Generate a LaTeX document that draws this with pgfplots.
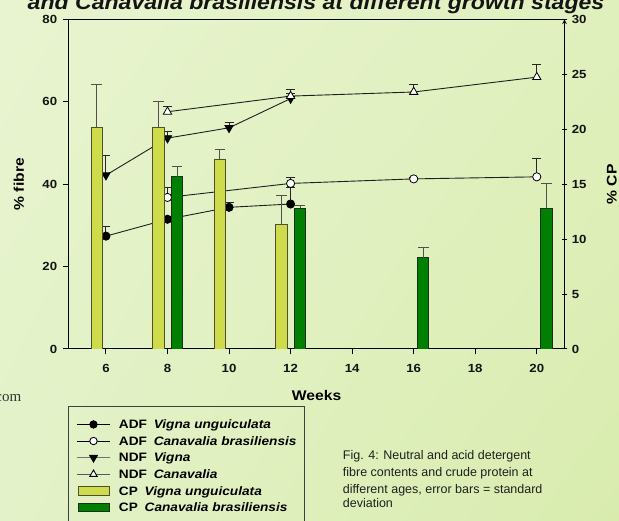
\documentclass[border=0pt]{standalone}
\usepackage{fontspec}
\setmainfont{Liberation Sans}[FakeStretch=1.12]
\newfontfamily\capfont{Liberation Sans}
\newfontfamily\webfont{Liberation Serif}
\usepackage{pgfplots}
\usepackage{pgfplotstable}
\usetikzlibrary{shadings}
\pgfplotsset{compat=1.18}

\definecolor{bgUL}{HTML}{E8F4D0}
\definecolor{bgUR}{HTML}{E0F0BD}
\definecolor{bgLL}{HTML}{E3F2C8}
\definecolor{bgLR}{HTML}{D9ECAE}
\definecolor{cpV}{HTML}{CEDC4C}
\definecolor{cpVedge}{HTML}{4F4F30}
\definecolor{cpC}{HTML}{008000}
\definecolor{cpCedge}{HTML}{1C2E1C}
\definecolor{errgray}{HTML}{505050}

% fibre contents (% of DM), columns: week, mean, standard deviation
\pgfplotstableread{
wk y e
6 27.4 2.3
8 31.5 0.6
10 34.4 1.1
12 35.2 4.1
}\adfvigna
\pgfplotstableread{
wk y e
8 36.8 2.4
12 40.2 1.4
16 41.3 0.4
20 41.8 4.5
}\adfcanav
\pgfplotstableread{
wk y e
6 42.2 4.7
8 51.2 1.6
10 53.7 1.4
12 60.8 1.2
}\ndfvigna
\pgfplotstableread{
wk y e
8 57.6 1.2
12 61.4 1.6
16 62.4 1.9
20 66.0 3.1
}\ndfcanav
% crude protein (%)
\pgfplotstableread{
wk y e
6 20.2 3.9
8 20.15 2.4
10 17.3 0.85
12 11.3 2.7
}\cpvigna
\pgfplotstableread{
wk y e
8 15.7 0.9
12 12.8 0.3
16 8.3 0.9
20 12.8 2.3
}\cpcanav

% tick numbers set in the bold text font
\newcommand{\axisnumber}{\pgfmathprintnumber[assume math mode=true]{\tick}}

\pgfplotsset{
  linelegend/.style={legend image code/.code={
      \draw[mark repeat=2, mark phase=2, ##1] plot coordinates {(0pt,0pt) (16.5pt,0pt) (33pt,0pt)};
      \path (41.3pt,0pt);}},
  barlegend/.style={legend image code/.code={
      \draw[##1] (1pt,-4.2pt) rectangle (32pt,4.2pt);
      \path (41.3pt,0pt);}},
  fibreline/.style={color=black!88, line width=0.9pt,
      error bars/y dir=plus, error bars/y explicit,
      error bars/error bar style={line width=0.9pt, black!85},
      error bars/error mark options={rotate=90, mark size=4.5pt, line width=0.9pt, black!85}},
  cpbar/.style={ybar, bar width=0.37, bar shift=0pt, line width=0.9pt,
      error bars/y dir=plus, error bars/y explicit,
      error bars/error bar style={line width=1pt, errgray},
      error bars/error mark options={rotate=90, mark size=5.3pt, line width=1pt, errgray}},
  commonaxis/.style={
      at={(68.7pt,172pt)}, anchor=south west,
      scale only axis, width=495.8pt, height=329.5pt,
      xmin=4.79, xmax=20.9,
      tick align=outside, major tick length=5.5pt,
      axis line style={-, line width=1pt, black},
      tick style={line width=1pt, black},
      /pgf/number format/assume math mode=true,
      xticklabel={\axisnumber}, yticklabel={\axisnumber},
      every tick label/.append style={font=\bfseries\fontsize{11.8}{13}\selectfont, text=black!92},
  },
}

\begin{document}
\begin{tikzpicture}
\useasboundingbox (0pt,0pt) rectangle (619pt,521pt);
\clip (0pt,0pt) rectangle (619pt,521pt);
\shade[upper left=bgUL, upper right=bgUR, lower left=bgLL, lower right=bgLR]
  (0pt,0pt) rectangle (619pt,521pt);

% fibre on the left axis
\begin{axis}[commonaxis,
  ymin=0, ymax=80,
  xtick={6,8,...,20}, ytick={0,20,...,80},
  xtick pos=left, ytick pos=left,
  yticklabel style={anchor=east, xshift=-2.5pt},
  xticklabel style={anchor=north, yshift=-6.5pt},
  xlabel={Weeks}, ylabel={\% fibre},
  label style={font=\bfseries\fontsize{14}{16}\selectfont},
  xlabel style={at={(axis description cs:0.5,-0.1578)}, anchor=base},
  ylabel style={at={(axis description cs:-0.0902,0.5)}, anchor=base},
]
\addplot[fibreline, mark=*, mark size=4.1pt, mark options={fill=black, draw=black, line width=0.8pt}]
  table[x=wk, y=y, y error=e] {\adfvigna};
\addplot[fibreline, mark=*, mark size=4.1pt, mark options={fill=white, draw=black, line width=0.8pt}]
  table[x=wk, y=y, y error=e] {\adfcanav};
\addplot[fibreline, mark=triangle*, mark size=4.8pt, mark options={rotate=180, fill=black, draw=black, line width=0.8pt}]
  table[x=wk, y=y, y error=e] {\ndfvigna};
\addplot[fibreline, mark=triangle*, mark size=4.8pt, mark options={fill=white, draw=black, line width=0.8pt}]
  table[x=wk, y=y, y error=e] {\ndfcanav};
\end{axis}

% crude protein on the right axis
\begin{axis}[commonaxis,
  ymin=0, ymax=30,
  axis x line=none, axis y line=right,
  ytick={0,5,...,30}, ytick pos=right,
  yticklabel style={anchor=west, xshift=1pt},
  ylabel={\% CP},
  ylabel style={font=\bfseries\fontsize{14}{16}\selectfont,
     at={(axis description cs:1.1053,0.5)}, anchor=base},
  legend style={at={(axis description cs:-0.0014,-0.174)}, anchor=north west,
     draw=black!75, line width=0.8pt, fill=none,
     inner xsep=8pt, inner ysep=11.7pt, row sep=4.6pt,
     font=\bfseries\fontsize{12.2}{14}\selectfont,
     nodes={inner sep=0pt, text height=10.3pt, text depth=1.7pt}},
  legend cell align=left,
]
\addlegendimage{linelegend, black, line width=0.9pt, mark=*, mark size=3.7pt, mark options={fill=black}}
\addlegendentry{ADF\hspace{3pt} \textit{Vigna unguiculata}}
\addlegendimage{linelegend, black, line width=0.9pt, mark=*, mark size=3.7pt, mark options={fill=white}}
\addlegendentry{ADF\hspace{3pt} \textit{Canavalia brasiliensis}}
\addlegendimage{linelegend, black!55, line width=1.2pt, mark=triangle*, mark size=4.2pt, mark options={rotate=180, fill=black, draw=black}}
\addlegendentry{NDF\hspace{3pt} \textit{Vigna}}
\addlegendimage{linelegend, black!65, line width=0.9pt, mark=triangle*, mark size=4.2pt, mark options={fill=white, draw=black}}
\addlegendentry{NDF\hspace{3pt} \textit{Canavalia}}

\addplot[barlegend, cpbar, fill=cpV, draw=cpVedge]
  table[x expr=\thisrow{wk}-0.3, y=y, y error=e] {\cpvigna};
\addlegendentry{CP\hspace{3pt} \textit{Vigna unguiculata}}
\addplot[barlegend, cpbar, fill=cpC, draw=cpCedge]
  table[x expr=\thisrow{wk}+0.31, y=y, y error=e] {\cpcanav};
\addlegendentry{CP\hspace{3pt} \textit{Canavalia brasiliensis}}
\end{axis}

% heading, source line and figure caption
\node[anchor=base, font=\bfseries\itshape\fontsize{20.6}{24}\selectfont, text=black!92]
  at (316pt,511pt) {and Canavalia brasiliensis at different growth stages};
\node[anchor=base east, font=\webfont\fontsize{15}{18}\selectfont, text=black!80, inner sep=0pt]
  at (21.5pt,119.5pt) {com};
\begin{scope}[every node/.style={anchor=base west, inner sep=0pt, text=black!88,
    font=\capfont\fontsize{12.5}{16}\selectfont}]
\node at (342.7pt,61pt) {Fig. 4: Neutral and acid detergent};
\node at (342.7pt,44.3pt) {fibre contents and crude protein at};
\node at (342.7pt,27.7pt) {different ages, error bars = standard};
\node at (342.7pt,13.3pt) {deviation};
\end{scope}
\end{tikzpicture}
\end{document}
